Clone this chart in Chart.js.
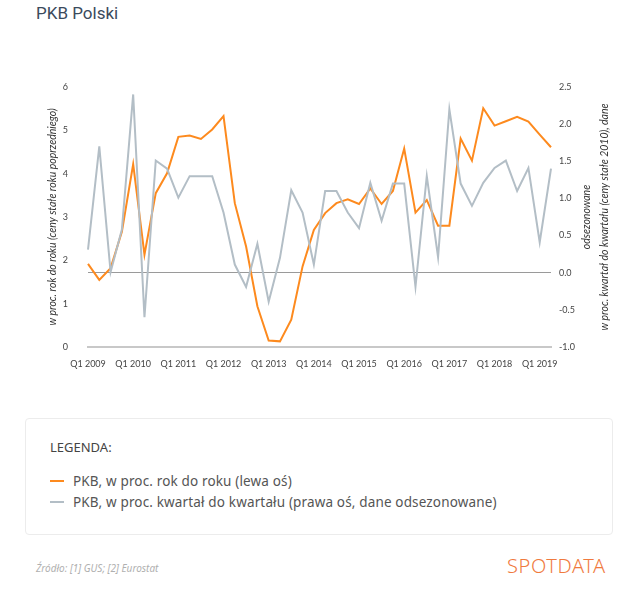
<!DOCTYPE html>
<html lang="pl">
<head>
<meta charset="utf-8">
<title>PKB Polski</title>
<script src="https://cdn.jsdelivr.net/npm/chart.js@4.4.1/dist/chart.umd.min.js"></script>
<style>
  body { margin: 0; background: #fff; width: 640px; height: 594px; position: relative; overflow: hidden; font-family: "Noto Sans", sans-serif; }
  #tytul { position: absolute; left: 36px; top: 3px; font-family: Roboto, sans-serif; font-size: 17px; color: #3b4a5c; }
  #wykres { position: absolute; left: 0; top: 60px; width: 640px; height: 320px; }
  #legenda { position: absolute; left: 25px; top: 418px; width: 588px; height: 117px; border: 1px solid #ececec; border-radius: 4px; box-sizing: border-box; }
  #legenda .naglowek { position: absolute; left: 24px; top: 19px; font-size: 13px; color: #444; }
  #legenda .poz { position: absolute; left: 24px; font-size: 13.5px; letter-spacing: 0.15px; color: #555; white-space: nowrap; }
  #legenda .kreska { display: inline-block; width: 14px; height: 2px; vertical-align: middle; margin-right: 9px; position: relative; top: -1px; }
  #zrodlo { position: absolute; left: 36px; top: 561px; font-size: 10px; font-style: italic; color: #b0b0b0; }
  #logo { position: absolute; left: 507px; top: 552px; font-size: 20px; font-weight: 300; color: #f07a3e; letter-spacing: 0.6px; }
</style>
</head>
<body>
<div id="tytul">PKB Polski</div>
<div id="wykres"><canvas id="pkbChart"></canvas></div>
<div id="legenda"><div class="naglowek">LEGENDA:</div></div>
<div id="zrodlo">Źródło: [1] GUS; [2] Eurostat</div>
<div id="logo">SPOTDATA</div>

<script>
// kwartały
const kwartaly = [
  "Q1 2009","Q2 2009","Q3 2009","Q4 2009",
  "Q1 2010","Q2 2010","Q3 2010","Q4 2010",
  "Q1 2011","Q2 2011","Q3 2011","Q4 2011",
  "Q1 2012","Q2 2012","Q3 2012","Q4 2012",
  "Q1 2013","Q2 2013","Q3 2013","Q4 2013",
  "Q1 2014","Q2 2014","Q3 2014","Q4 2014",
  "Q1 2015","Q2 2015","Q3 2015","Q4 2015",
  "Q1 2016","Q2 2016","Q3 2016","Q4 2016",
  "Q1 2017","Q2 2017","Q3 2017","Q4 2017",
  "Q1 2018","Q2 2018","Q3 2018","Q4 2018",
  "Q1 2019","Q2 2019"
];

// PKB r/r (lewa oś)
const pkbRdR = [
  1.92, 1.55, 1.82, 2.66, 4.22, 2.13, 3.55, 4.01, 4.85, 4.88, 4.80, 5.02,
  5.33, 3.32, 2.32, 0.94, 0.15, 0.13, 0.63, 1.86, 2.70, 3.09, 3.32, 3.41,
  3.30, 3.66, 3.30, 3.60, 4.58, 3.10, 3.39, 2.80, 2.80, 4.81, 4.30, 5.51,
  5.11, 5.21, 5.31, 5.20, 4.90, 4.61
];

// PKB k/k odsezonowany (prawa oś)
const pkbKdK = [
  0.31, 1.70, 0.01, 0.58, 2.40, -0.60, 1.51, 1.40, 1.01, 1.30, 1.30, 1.30,
  0.81, 0.11, -0.19, 0.39, -0.39, 0.20, 1.11, 0.81, 0.11, 1.10, 1.10, 0.81,
  0.60, 1.21, 0.70, 1.20, 1.20, -0.19, 1.30, 0.21, 2.20, 1.20, 0.90, 1.21,
  1.41, 1.51, 1.10, 1.41, 0.41, 1.40
];

const nazwaLewa = "PKB, w proc. rok do roku (lewa oś)";
const nazwaPrawa = "PKB, w proc. kwartał do kwartału (prawa oś, dane odsezonowane)";
const kolorLewa = "#fd8a1e";
const kolorPrawa = "#b3bec6";

const tytulLewej = "w proc. rok do roku (ceny stałe roku poprzedniego)";
const tytulPrawej = ["odsezonowane", "w proc. kwartał do kwartału (ceny stałe 2010), dane"];

// tytuł prawej osi czytany od dołu do góry
const prawyTytul = {
  id: "prawyTytul",
  afterDraw(chart) {
    const c = chart.ctx;
    const a = chart.chartArea;
    const yS = (a.top + a.bottom) / 2;
    c.save();
    c.font = "italic 10.5px Lato";
    c.fillStyle = "#333";
    c.textAlign = "center";
    c.textBaseline = "middle";
    const xs = [587, 605];
    tytulPrawej.forEach((t, i) => {
      c.save();
      c.translate(xs[i], yS);
      c.rotate(-Math.PI / 2);
      c.fillText(t, 0, 0);
      c.restore();
    });
    c.restore();
  }
};

const ctx = document.getElementById("pkbChart").getContext("2d");
new Chart(ctx, {
  type: "line",
  data: {
    labels: kwartaly,
    datasets: [
      { label: nazwaPrawa, data: pkbKdK, yAxisID: "yP", borderColor: kolorPrawa, borderWidth: 2, pointRadius: 0, tension: 0, fill: false },
      { label: nazwaLewa, data: pkbRdR, yAxisID: "yL", borderColor: kolorLewa, borderWidth: 2, pointRadius: 0, tension: 0, fill: false }
    ]
  },
  options: {
    responsive: true,
    maintainAspectRatio: false,
    animation: false,
    layout: { padding: { top: 27, left: 0, right: 0, bottom: 0 } },
    plugins: { legend: { display: false }, tooltip: { enabled: false } },
    scales: {
      x: {
        grid: { display: false },
        border: { display: true, color: "#c8c8c8", width: 2 },
        ticks: {
          autoSkip: false, maxRotation: 0, padding: 4,
          font: { family: "Lato", size: 9 }, color: "#444",
          callback: function (v) { const l = kwartaly[v]; return l.startsWith("Q1") ? l : ""; }
        },
        afterFit(s) { s.height = 33; }
      },
      yL: {
        position: "left", min: 0, max: 6,
        grid: { display: false },
        border: { display: false },
        ticks: { stepSize: 1, padding: 12, font: { family: "Lato", size: 9 }, color: "#444" },
        title: { display: true, text: tytulLewej, font: { family: "Lato", size: 10.5, style: "italic" }, color: "#333", padding: { top: 46, bottom: 0 } },
        afterFit(s) { s.width = 88; }
      },
      yP: {
        position: "right", min: -1, max: 2.5,
        grid: {
          drawTicks: false,
          color: (c) => c.tick && c.tick.value === 0 ? "#9a9a9a" : "rgba(0,0,0,0)",
          lineWidth: 1
        },
        border: { display: false },
        ticks: { stepSize: 0.5, padding: 8, font: { family: "Lato", size: 9 }, color: "#444", callback: (v) => v.toFixed(1) },
        afterFit(s) { s.width = 89; }
      }
    }
  },
  plugins: [prawyTytul]
});

// legenda HTML
const legenda = document.getElementById("legenda");
[[nazwaLewa, kolorLewa, 53], [nazwaPrawa, kolorPrawa, 74]].forEach(([n, k, t]) => {
  const d = document.createElement("div");
  d.className = "poz";
  d.style.top = t + "px";
  d.innerHTML = '<span class="kreska" style="background:' + k + '"></span>' + n;
  legenda.appendChild(d);
});
</script>
</body>
</html>
